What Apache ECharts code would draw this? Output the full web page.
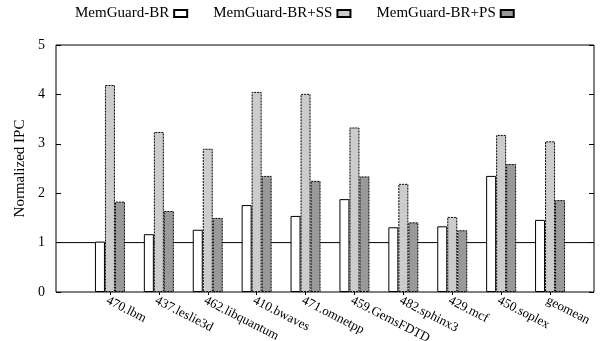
<!DOCTYPE html>
<html><head><meta charset="utf-8">
<script src="https://cdn.jsdelivr.net/npm/echarts@6/dist/echarts.min.js"></script>
<style>html,body{margin:0;padding:0;background:#fff}#c{width:611px;height:341px}</style>
</head><body><div id="c"></div>
<script>
const categories = ['470.lbm','437.leslie3d','462.libquantum','410.bwaves','471.omnetpp','459.GemsFDTD','482.sphinx3','429.mcf','450.soplex','geomean'];
const seriesNames = ['MemGuard-BR','MemGuard-BR+SS','MemGuard-BR+PS'];
const valuesBR = [1.02,1.17,1.26,1.76,1.54,1.88,1.31,1.33,2.35,1.46];
const valuesSS = [4.19,3.24,2.90,4.05,4.01,3.33,2.19,1.52,3.18,3.05];
const valuesPS = [1.83,1.64,1.50,2.35,2.25,2.34,1.41,1.25,2.59,1.86];
const yTicks = [0,1,2,3,4,5];
const refLine = [1,1];

const font = 'Liberation Serif';
const chart = echarts.init(document.getElementById('c'), null, {renderer:'canvas'});
const barCommon = {type:'bar', xAxisIndex:1, yAxisIndex:2, barWidth:10, barGap:'0%', z:3};
chart.setOption({
  animation:false,
  textStyle:{fontFamily:font, color:'#000'},
  legend:{
    data:seriesNames, left:75, top:6, padding:0, align:'right', icon:'rect', itemWidth:13, itemHeight:7, itemGap:25,
    textStyle:{fontFamily:font, fontSize:15, color:'#000'}
  },
  grid:[
    {left:56, right:17, top:45, bottom:49, show:true, borderColor:'#000', borderWidth:1, backgroundColor:'transparent', containLabel:false, outerBoundsMode:'none'},
    {left:85.5, right:36.5, top:45, bottom:49, containLabel:false, outerBoundsMode:'none'}
  ],
  xAxis:[
    {gridIndex:0, type:'category', data:['',''], boundaryGap:false, axisLine:{show:false}, axisTick:{show:false}, axisLabel:{show:false}},
    {gridIndex:1, type:'category', data:categories, axisLine:{show:false},
     axisTick:{show:true, alignWithLabel:true, inside:false, length:3, lineStyle:{color:'#000'}},
     axisLabel:{rotate:-27, fontFamily:font, fontSize:13, color:'#000', margin:2, interval:0, verticalAlign:'top'}}
  ],
  yAxis:[
    {gridIndex:0, type:'value', min:yTicks[0], max:yTicks[yTicks.length-1], interval:1, position:'left',
     name:'Normalized IPC', nameLocation:'middle', nameGap:25, nameRotate:90,
     nameTextStyle:{fontFamily:font, fontSize:15, color:'#000'},
     axisLine:{show:false}, splitLine:{show:false},
     axisTick:{show:true, inside:true, length:5, lineStyle:{color:'#000'}},
     axisLabel:{fontFamily:font, fontSize:14, color:'#000', margin:11}},
    {gridIndex:0, type:'value', min:yTicks[0], max:yTicks[yTicks.length-1], interval:1, position:'right',
     axisLine:{show:false}, splitLine:{show:false},
     axisTick:{show:true, inside:true, length:5, lineStyle:{color:'#000'}},
     axisLabel:{show:false}},
    {gridIndex:1, type:'value', min:0, max:5, show:false, splitLine:{show:false}}
  ],
  series:[
    {type:'line', xAxisIndex:0, yAxisIndex:0, data:refLine, symbol:'none', silent:true, z:1,
     lineStyle:{color:'#000', width:1}},
    Object.assign({}, barCommon, {name:seriesNames[0], data:valuesBR,
      itemStyle:{color:'#ffffff', borderColor:'#000', borderWidth:1}}),
    Object.assign({}, barCommon, {name:seriesNames[1], data:valuesSS,
      itemStyle:{color:'#cccccc', borderColor:'#000', borderWidth:1, borderType:[2,1]}}),
    Object.assign({}, barCommon, {name:seriesNames[2], data:valuesPS,
      itemStyle:{color:'#999999', borderColor:'#000', borderWidth:1, borderType:[2,1]}})
  ]
});
</script></body></html>
